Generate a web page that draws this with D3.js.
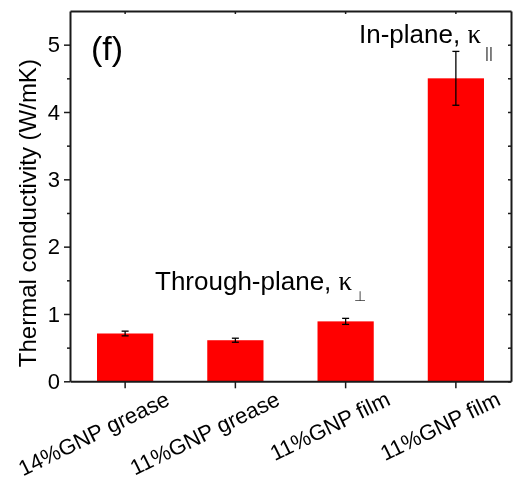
<!DOCTYPE html>
<html>
<head>
<meta charset="utf-8">
<script src="https://cdn.jsdelivr.net/npm/d3@7"></script>
<style>
  html, body { margin: 0; padding: 0; background: #fff; }
  svg { display: block; will-change: transform; }
  text, tspan { font-family: "Liberation Sans", Arial, Helvetica, sans-serif; fill: #000; }
  .greek { font-family: "Liberation Serif", "Times New Roman", serif; }
</style>
</head>
<body>
<svg id="chart" width="518" height="483"></svg>
<script>
// Thermal conductivity of GNP greases and films
const categories = ["14%GNP grease", "11%GNP grease", "11%GNP film", "11%GNP film "];
const conductivity = [0.71, 0.61, 0.89, 4.5];
const errors = [0.035, 0.03, 0.045, 0.4];
const yMajorTicks = [0, 1, 2, 3, 4, 5];
const yMinorTicks = [0.5, 1.5, 2.5, 3.5, 4.5];
const yTitle = "Thermal conductivity (W/mK)";
const panelLabel = "(f)";

const svg = d3.select("#chart");
const plotLeft = 70, plotRight = 511, plotTop = 11, plotBottom = 381.3;
const axisColor = "#1a1a1a";

const x = d3.scaleBand().domain(categories).range([plotLeft, plotRight]).paddingInner(0.49).paddingOuter(0.245);
const y = d3.scaleLinear().domain([0, 5.5]).range([plotBottom, plotTop]);
const cx = d => x(d) + x.bandwidth() / 2;

// bars
svg.append("g").selectAll("rect")
  .data(categories)
  .join("rect")
  .attr("x", d => x(d))
  .attr("width", x.bandwidth())
  .attr("y", (d, i) => y(conductivity[i]))
  .attr("height", (d, i) => plotBottom - y(conductivity[i]))
  .attr("fill", "#ff0000");

// error bars
const eb = svg.append("g").attr("stroke", "#000").attr("stroke-width", 1.3);
categories.forEach((c, i) => {
  const xc = cx(c), hi = y(conductivity[i] + errors[i]), lo = y(conductivity[i] - errors[i]);
  eb.append("line").attr("x1", xc).attr("x2", xc).attr("y1", hi).attr("y2", lo);
  eb.append("line").attr("x1", xc - 3.5).attr("x2", xc + 3.5).attr("y1", hi).attr("y2", hi);
  eb.append("line").attr("x1", xc - 3.5).attr("x2", xc + 3.5).attr("y1", lo).attr("y2", lo);
});

function styleAxis(g) {
  g.selectAll("path.domain").attr("stroke", axisColor).attr("stroke-width", 2);
  g.selectAll(".tick line").attr("stroke", axisColor).attr("stroke-width", 1.5);
}

// left axis: major ticks with labels, minor ticks outward
const yAxis = svg.append("g").attr("transform", `translate(${plotLeft},0)`)
  .call(d3.axisLeft(y).tickValues(yMajorTicks).tickSize(6).tickSizeOuter(0).tickPadding(4).tickFormat(d3.format("d")))
  .call(styleAxis);
yAxis.selectAll(".tick text").attr("font-size", 22).attr("font-family", "Liberation Sans, Arial, sans-serif");
svg.append("g").attr("transform", `translate(${plotLeft},0)`)
  .call(d3.axisLeft(y).tickValues(yMinorTicks).tickSize(3).tickFormat(""))
  .call(g => g.select(".domain").remove())
  .call(styleAxis);

// right axis: mirrored ticks pointing inward
svg.append("g").attr("transform", `translate(${plotRight},0)`)
  .call(d3.axisRight(y).tickValues(yMajorTicks.concat(yMinorTicks)).tickSize(-3).tickSizeOuter(0).tickFormat(""))
  .call(styleAxis);

// bottom axis with rotated category labels
const xAxis = svg.append("g").attr("transform", `translate(0,${plotBottom})`)
  .call(d3.axisBottom(x).tickSize(7).tickSizeOuter(0))
  .call(styleAxis);
xAxis.selectAll(".tick text")
  .attr("font-size", 22)
  .attr("font-family", "Liberation Sans, Arial, sans-serif")
  .attr("text-anchor", "end")
  .attr("dy", null)
  .attr("y", null)
  .attr("transform", "translate(46,23) rotate(-26)")
  .text(d => d.trim());

// top axis: short inward ticks
svg.append("g").attr("transform", `translate(0,${plotTop})`)
  .call(d3.axisTop(x).tickSize(-3).tickSizeOuter(0).tickFormat(""))
  .call(styleAxis);

// y axis title
svg.append("text")
  .attr("transform", `translate(36,${(plotTop + plotBottom) / 2 + 17}) rotate(-90)`)
  .attr("text-anchor", "middle")
  .attr("font-size", 24)
  .text(yTitle);

// panel label
svg.append("text").attr("x", 91).attr("y", 60).attr("font-size", 34).text(panelLabel);

// annotations with kappa and subscript symbols
const inPlane = svg.append("text").attr("x", 359).attr("y", 43).attr("font-size", 26);
inPlane.append("tspan").text("In-plane, ");
inPlane.append("tspan").attr("class", "greek").attr("font-size", 27).text("κ");
svg.append("text").attr("x", 485).attr("y", 58).attr("font-size", 15)
  .attr("font-family", "DejaVu Sans").style("fill", "#333")
  .attr("transform", "rotate(0.01)").text("||");

const through = svg.append("text").attr("x", 155).attr("y", 290).attr("font-size", 26);
through.append("tspan").text("Through-plane, ");
through.append("tspan").attr("class", "greek").attr("font-size", 27).text("κ");
svg.append("text").attr("x", 354).attr("y", 301).attr("font-size", 14)
  .style("fill", "#333").attr("transform", "rotate(0.01)").text("⊥");
</script>
</body>
</html>
